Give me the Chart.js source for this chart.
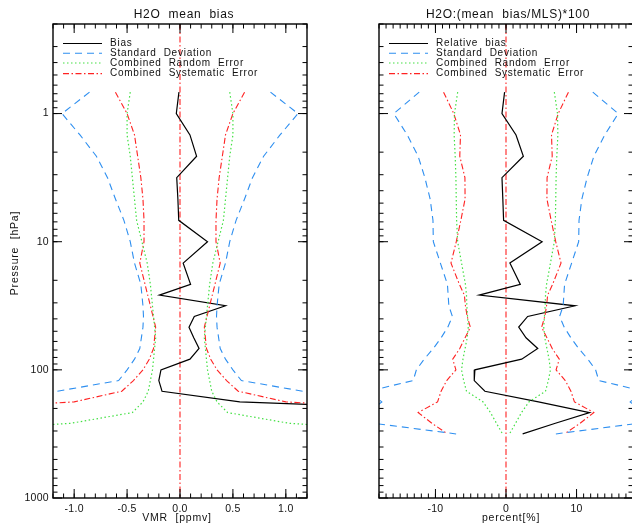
<!DOCTYPE html>
<html>
<head>
<meta charset="utf-8">
<script src="https://cdn.jsdelivr.net/npm/chart.js@4.4.1/dist/chart.umd.min.js"></script>
<style>
  html, body { margin: 0; padding: 0; background: #fff; overflow: hidden; width: 632px; height: 527px; }
  canvas { position: absolute; top: 0; }
  #vmrPanel { left: 0; }
  #pctPanel { left: 320px; }
</style>
</head>
<body>
<canvas id="vmrPanel" width="320" height="527"></canvas>
<canvas id="pctPanel" width="320" height="527"></canvas>
<script>
// Pressure levels (hPa) of the profiles
const pressure = [0.681, 1, 1.468, 2.154, 3.162, 4.642, 6.813, 10, 14.68, 21.54, 26.10, 31.62,
                  38.31, 46.42, 56.23, 68.13, 82.54, 100, 121.2, 146.8, 177.8, 215.4, 261.0, 316.2];

// Absolute statistics, VMR [ppmv]
const biasVmr = [-0.01, -0.035, 0.094, 0.157, -0.031, -0.02, -0.012, 0.26, 0.03, 0.10, -0.195, 0.43,
                 0.135, 0.085, 0.13, 0.18, 0.094, -0.18, -0.20, -0.17, 0.565, 3.4, 4.0, 3.0];
const stdVmr  = [0.855, 1.115, 0.945, 0.79, 0.685, 0.61, 0.53, 0.47, 0.43, 0.37, 0.36, 0.35,
                 0.345, 0.35, 0.365, 0.38, 0.43, 0.50, 0.58, 1.16, 2.0, 3.0, 3.5, 3.5];
const randVmr = [0.47, 0.50, 0.50, 0.47, 0.45, 0.43, 0.41, 0.36, 0.31, 0.28, 0.27, 0.26,
                 0.25, 0.24, 0.23, 0.24, 0.25, 0.26, 0.28, 0.30, 0.35, 0.45, 1.03, 2.5];
const sysVmr  = [0.61, 0.50, 0.43, 0.40, 0.37, 0.35, 0.34, 0.34, 0.38, 0.33, 0.305, 0.28,
                 0.255, 0.23, 0.24, 0.25, 0.29, 0.35, 0.44, 0.55, 1.0, 2.8, 3.0, 3.0];

// Relative statistics, percent of MLS
const biasPct = [-0.2, -0.57, 1.42, 2.46, -0.57, -0.45, -0.34, 5.12, 0.55, 2.03, -3.8, 9.8,
                 3.07, 1.8, 2.84, 4.5, 2.22, -4.41, -4.5, -2.99, 4.6, 11.85, 7.0, 2.36];
const stdPct  = [12.3, 15.9, 14.0, 12.45, 11.5, 10.75, 10.35, 10.3, 9.3, 8.3, 8.2, 8.1,
                 7.6, 8.25, 9.2, 10.3, 11.6, 12.7, 13.15, 19.5, 17.6, 19.5, 18.8, 7.07];
const randPct = [6.85, 7.3, 7.35, 7.2, 7.1, 7.05, 7.0, 6.85, 6.3, 5.75, 5.6, 5.55,
                 5.45, 5.35, 5.5, 5.8, 6.1, 6.3, 6.0, 5.6, 3.25, 2.2, 1.35, 0.5];
const sysPct  = [8.85, 7.4, 6.45, 6.55, 5.82, 5.8, 6.4, 7.05, 7.8, 6.6, 5.9, 5.75,
                 5.5, 5.05, 5.8, 6.55, 7.55, 7.1, 8.4, 9.2, 9.7, 12.45, 10.5, 8.3];

// Tick labels
const vmrTicks = [-1.0, -0.5, 0.0, 0.5, 1.0];
const vmrTickLabels = ['-1.0', '-0.5', '0.0', '0.5', '1.0'];
const pctTicks = [-10, 0, 10];
const pctTickLabels = ['-10', '0', '10'];
const pressureTicks = [1, 10, 100, 1000];
const pressureTickLabels = ['1', '10', '100', '1000'];

const STYLE = {
  bias: { color: '#000000', dash: [], width: 1.2 },
  std:  { color: '#2e8ff0', dash: [7, 5], width: 1.1 },
  rand: { color: '#44e044', dash: [1.5, 2.5], width: 1.2 },
  sys:  { color: '#ff2222', dash: [6, 2.5, 1.5, 2.5], width: 1.1 }
};
const FONT = '"Liberation Sans", Arial, sans-serif';

function profile(values, sign) {
  return pressure.map((p, i) => ({ x: sign * values[i], y: p }));
}
function lineSet(data, st) {
  return { data, showLine: true, fill: false, pointRadius: 0, borderColor: st.color,
           borderWidth: st.width, borderDash: st.dash, tension: 0 };
}

// Frame, inward ticks, labels, titles and legend
const panelDecor = {
  id: 'panelDecor',
  afterDatasetsDraw(chart, args, o) {
    const { ctx, chartArea: a, scales: { x, y } } = chart;
    ctx.save();
    ctx.strokeStyle = '#000';
    ctx.lineWidth = 1;
    ctx.setLineDash([]);
    const hTick = (px, len) => {
      ctx.beginPath();
      ctx.moveTo(px, a.bottom); ctx.lineTo(px, a.bottom - len);
      ctx.moveTo(px, a.top); ctx.lineTo(px, a.top + len);
      ctx.stroke();
    };
    const vTick = (py, len) => {
      ctx.beginPath();
      ctx.moveTo(a.left, py); ctx.lineTo(a.left + len, py);
      ctx.moveTo(a.right, py); ctx.lineTo(a.right - len, py);
      ctx.stroke();
    };
    // x ticks
    for (let k = Math.ceil(o.xMin / o.minorStep - 1e-6); k * o.minorStep <= o.xMax + 1e-9; k++) {
      hTick(x.getPixelForValue(k * o.minorStep), 4.5);
    }
    o.ticks.forEach(v => hTick(x.getPixelForValue(v), 9));
    // pressure ticks
    for (let dec = -1; dec <= 2; dec++) {
      for (let m = 1; m <= 9; m++) {
        const p = m * Math.pow(10, dec);
        if (p < 0.2 || p > 1000) continue;
        vTick(y.getPixelForValue(p), 4.5);
      }
    }
    pressureTicks.forEach(p => vTick(y.getPixelForValue(p), 9));
    ctx.lineWidth = 1.4;
    ctx.strokeRect(a.left, a.top, a.right - a.left, a.bottom - a.top);

    // tick labels
    ctx.fillStyle = '#111';
    ctx.font = '10.5px ' + FONT;
    ctx.letterSpacing = '0.3px';
    ctx.textAlign = 'center';
    ctx.textBaseline = 'middle';
    o.ticks.forEach((v, i) => ctx.fillText(o.tickLabels[i], x.getPixelForValue(v), a.bottom + 11));
    if (o.pressureLabels) {
      ctx.textAlign = 'right';
      pressureTicks.forEach((p, i) => ctx.fillText(pressureTickLabels[i], a.left - 4, y.getPixelForValue(p)));
    }
    // axis titles
    ctx.letterSpacing = '0.8px';
    ctx.textAlign = 'center';
    ctx.fillText(o.xTitle, o.xTitleX, a.bottom + 20);
    if (o.yTitle) {
      ctx.save();
      ctx.translate(15, 253);
      ctx.rotate(-Math.PI / 2);
      ctx.fillText(o.yTitle, 0, 0);
      ctx.restore();
    }
    ctx.font = '12px ' + FONT;
    ctx.letterSpacing = '0.7px';
    ctx.fillText(o.title, o.titleX, 15);

    // legend
    ctx.font = '10px ' + FONT;
    ctx.letterSpacing = '0.75px';
    ctx.textAlign = 'left';
    const rows = [['bias', o.legend[0], 43.5], ['std', o.legend[1], 53.3],
                  ['rand', o.legend[2], 63], ['sys', o.legend[3], 73.6]];
    rows.forEach(([key, label, ry]) => {
      const st = STYLE[key];
      ctx.strokeStyle = st.color;
      ctx.lineWidth = st.width;
      ctx.setLineDash(st.dash);
      ctx.beginPath();
      ctx.moveTo(a.left + 10, ry); ctx.lineTo(a.left + 49, ry);
      ctx.stroke();
      ctx.fillStyle = '#111';
      ctx.fillText(label, a.left + 57, ry);
    });
    ctx.restore();
  }
};

function makePanel(id, v, opts) {
  const datasets = [
    lineSet(profile(v.std, 1), STYLE.std), lineSet(profile(v.std, -1), STYLE.std),
    lineSet(profile(v.rand, 1), STYLE.rand), lineSet(profile(v.rand, -1), STYLE.rand),
    lineSet(profile(v.sys, 1), STYLE.sys), lineSet(profile(v.sys, -1), STYLE.sys),
    lineSet(profile(v.bias, 1), STYLE.bias),
    lineSet([{ x: 0, y: 0.2 }, { x: 0, y: 1000 }], STYLE.sys)
  ];
  return new Chart(document.getElementById(id), {
    type: 'scatter',
    data: { datasets },
    options: {
      responsive: false,
      animation: false,
      events: [],
      layout: { padding: opts.padding },
      scales: {
        x: { type: 'linear', min: opts.xMin, max: opts.xMax, display: false },
        y: { type: 'logarithmic', min: 0.2, max: 1000, reverse: true, display: false }
      },
      plugins: { legend: { display: false }, tooltip: { enabled: false }, panelDecor: opts }
    },
    plugins: [panelDecor]
  });
}

makePanel('vmrPanel', { bias: biasVmr, std: stdVmr, rand: randVmr, sys: sysVmr }, {
  padding: { left: 53, right: 13, top: 24, bottom: 29 },
  xMin: -1.2, xMax: 1.2, minorStep: 0.1,
  ticks: vmrTicks, tickLabels: vmrTickLabels,
  pressureLabels: true, yTitle: 'Pressure  [hPa]',
  xTitle: 'VMR  [ppmv]', xTitleX: 177,
  title: 'H2O  mean  bias', titleX: 184,
  legend: ['Bias', 'Standard  Deviation', 'Combined  Random  Error', 'Combined  Systematic  Error']
});

makePanel('pctPanel', { bias: biasPct, std: stdPct, rand: randPct, sys: sysPct }, {
  padding: { left: 59, right: 7, top: 24, bottom: 29 },
  xMin: -18, xMax: 18, minorStep: 1,
  ticks: pctTicks, tickLabels: pctTickLabels,
  pressureLabels: false, yTitle: null,
  xTitle: 'percent[%]', xTitleX: 191,
  title: 'H2O:(mean  bias/MLS)*100', titleX: 188,
  legend: ['Relative  bias', 'Standard  Deviation', 'Combined  Random  Error', 'Combined  Systematic  Error']
});
</script>
</body>
</html>
